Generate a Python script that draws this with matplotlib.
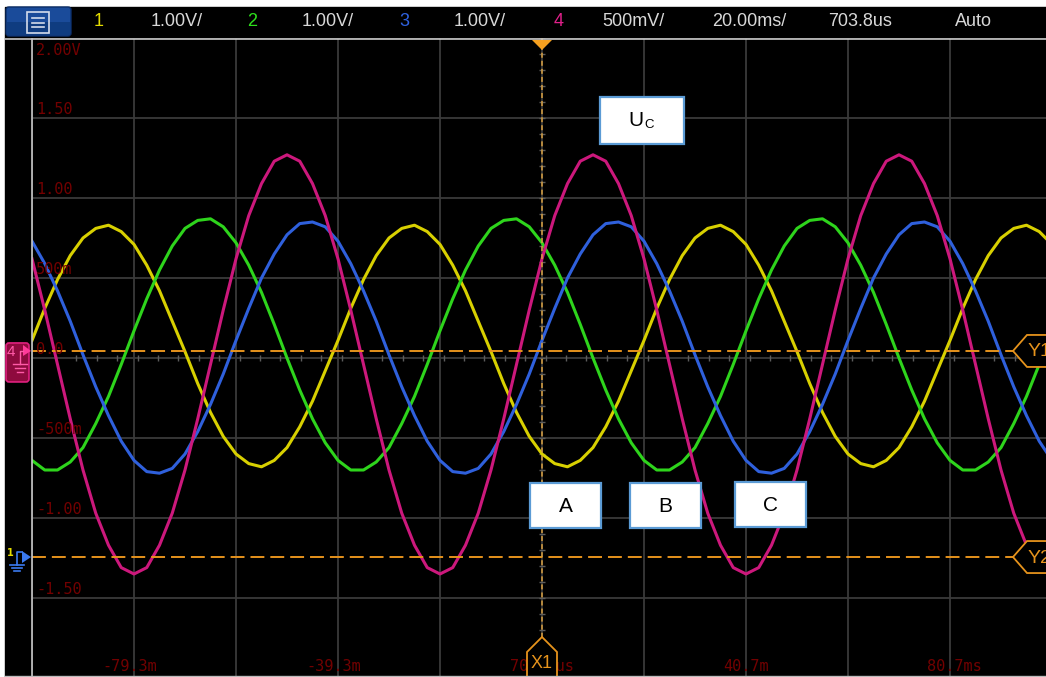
import numpy as np
import matplotlib
matplotlib.use('Agg')
import matplotlib.pyplot as plt
from matplotlib.patches import Rectangle, Polygon, FancyBboxPatch

plt.rcParams['lines.scale_dashes'] = False

# --- data -----------------------------------------------------------------
# time base in ms (one sample every 2.5 ms over the 10 divisions)
t_ms = np.arange(-100, 100.1, 2.5)

ch1_yellow = [
    0.11, 0.31, 0.49, 0.64, 0.75, 0.81, 0.83, 0.79, 0.71, 0.58, 0.42, 0.23,
    0.04, -0.16, -0.34, -0.49, -0.60, -0.66, -0.68, -0.64, -0.56, -0.43, -0.27, -0.08,
    0.11, 0.31, 0.49, 0.64, 0.75, 0.81, 0.83, 0.79, 0.71, 0.58, 0.42, 0.23,
    0.04, -0.16, -0.34, -0.49, -0.60, -0.66, -0.68, -0.64, -0.56, -0.43, -0.27, -0.08,
    0.11, 0.31, 0.49, 0.64, 0.75, 0.81, 0.83, 0.79, 0.71, 0.58, 0.42, 0.23,
    0.04, -0.16, -0.34, -0.49, -0.60, -0.66, -0.68, -0.64, -0.56, -0.43, -0.27, -0.08,
    0.11, 0.31, 0.49, 0.64, 0.75, 0.81, 0.83, 0.79, 0.71]

ch2_green = [
    -0.64, -0.70, -0.70, -0.65, -0.56, -0.41, -0.24, -0.04, 0.17, 0.37, 0.55, 0.70,
    0.81, 0.86, 0.87, 0.82, 0.72, 0.58, 0.41, 0.21, 0.00, -0.20, -0.38, -0.53,
    -0.64, -0.70, -0.70, -0.65, -0.56, -0.41, -0.24, -0.04, 0.17, 0.37, 0.55, 0.70,
    0.81, 0.86, 0.87, 0.82, 0.72, 0.58, 0.41, 0.21, 0.00, -0.20, -0.38, -0.53,
    -0.64, -0.70, -0.70, -0.65, -0.56, -0.41, -0.24, -0.04, 0.17, 0.37, 0.55, 0.70,
    0.81, 0.86, 0.87, 0.82, 0.72, 0.58, 0.41, 0.21, 0.00, -0.20, -0.38, -0.53,
    -0.64, -0.70, -0.70, -0.65, -0.56, -0.41, -0.24, -0.04, 0.17]

ch3_blue = [
    0.73, 0.59, 0.42, 0.23, 0.02, -0.18, -0.36, -0.52, -0.64, -0.71, -0.72, -0.69,
    -0.60, -0.46, -0.29, -0.10, 0.11, 0.31, 0.50, 0.65, 0.77, 0.84, 0.85, 0.82,
    0.73, 0.59, 0.42, 0.23, 0.02, -0.18, -0.36, -0.52, -0.64, -0.71, -0.72, -0.69,
    -0.60, -0.46, -0.29, -0.10, 0.11, 0.31, 0.50, 0.65, 0.77, 0.84, 0.85, 0.82,
    0.73, 0.59, 0.42, 0.23, 0.02, -0.18, -0.36, -0.52, -0.64, -0.71, -0.72, -0.69,
    -0.60, -0.46, -0.29, -0.10, 0.11, 0.31, 0.50, 0.65, 0.77, 0.84, 0.85, 0.82,
    0.73, 0.59, 0.42, 0.23, 0.02, -0.18, -0.36, -0.52, -0.64]

ch4_magenta = [
    0.62, 0.30, -0.04, -0.38, -0.70, -0.97, -1.17, -1.31, -1.35, -1.31, -1.17, -0.97,
    -0.70, -0.38, -0.04, 0.30, 0.62, 0.89, 1.09, 1.23, 1.27, 1.23, 1.09, 0.89,
    0.62, 0.30, -0.04, -0.38, -0.70, -0.97, -1.17, -1.31, -1.35, -1.31, -1.17, -0.97,
    -0.70, -0.38, -0.04, 0.30, 0.62, 0.89, 1.09, 1.23, 1.27, 1.23, 1.09, 0.89,
    0.62, 0.30, -0.04, -0.38, -0.70, -0.97, -1.17, -1.31, -1.35, -1.31, -1.17, -0.97,
    -0.70, -0.38, -0.04, 0.30, 0.62, 0.89, 1.09, 1.23, 1.27, 1.23, 1.09, 0.89,
    0.62, 0.30, -0.04, -0.38, -0.70, -0.97, -1.17, -1.31, -1.35]

volt_levels = [2.0, 1.5, 1.0, 0.5, 0.0, -0.5, -1.0, -1.5]
volt_labels = ['2.00V', '1.50', '1.00', '500m', '0.0', '-500m', '-1.00', '-1.50']
time_levels = [-80, -40, 0, 40, 80]
time_labels = ['-79.3m', '-39.3m', '703.8us', '40.7m', '80.7ms']

header = [('1', 99, '#e4dc00'), ('1.00V/', 177, '#d8d8d8'),
          ('2', 252, '#2ee01c'), ('1.00V/', 328, '#d8d8d8'),
          ('3', 404, '#2f62e0'), ('1.00V/', 480, '#d8d8d8'),
          ('4', 559, '#e0208a'), ('500mV/', 633, '#d8d8d8'),
          ('20.00ms/', 749, '#d8d8d8'), ('703.8us', 860, '#d8d8d8'),
          ('Auto', 973, '#d8d8d8')]

cursor_x1 = 0.0
cursor_y1 = 0.044
cursor_y2 = -1.244

# label boxes: text, left, top, width, height (screen pixels)
boxes = [('A', 530, 483, 71, 45), ('B', 630, 483, 71, 45), ('C', 735, 482, 71, 45)]

W, H = 1046, 677
ORANGE = '#e6931c'
LABEL_RED = '#720000'


def vy(v):
    # volts -> screen pixel row (0 V at row 358, 160 px per volt)
    return 358 - v * 160


fig = plt.figure(figsize=(W / 100, H / 100), dpi=100)
fig.patch.set_facecolor('white')

# black screen behind everything
bg = fig.add_axes([0, 0, 1, 1], zorder=0)
bg.set_xlim(0, W)
bg.set_ylim(H, 0)
bg.axis('off')
bg.add_patch(Rectangle((5, 7), W - 5, H - 7, color='black'))

# waveform area: 10 x 8 divisions
ax = fig.add_axes([32 / W, (H - 678) / H, 1020 / W, 640 / H], zorder=1)
ax.set_facecolor('black')
ax.set_xlim(-100, 100)
ax.set_ylim(-2, 2)
ax.set_xticks(np.arange(-100, 101, 20))
ax.set_yticks(np.arange(-2, 2.01, 0.5))
ax.grid(True, color='#3a3a3a', lw=1.3)
ax.tick_params(length=0, labelbottom=False, labelleft=False)
for s in ax.spines.values():
    s.set_visible(False)

# small ticks on the centre lines
ax.plot(np.arange(-96, 100, 4) + 0.7, np.zeros(49), ls='none', marker='|',
        ms=5, mew=1, color='#5c5c5c')
ax.plot(np.zeros(41), np.arange(-2, 2.01, 0.1), ls='none', marker='_',
        ms=5, mew=1, color='#5c5c5c')

for lab, v in zip(volt_labels, volt_levels):
    off = -9 if v == 2.0 else 6
    ax.annotate(lab, xy=(0, v), xycoords=('axes fraction', 'data'),
                xytext=(3, off), textcoords='offset points', ha='left',
                va='center', family='DejaVu Sans Mono', fontsize=11,
                color=LABEL_RED)

fs = 11
for lab, tv in zip(time_labels, time_levels):
    d = lab.index('.')
    shift = (len(lab) / 2 - (d + 0.5)) * 0.602 * fs
    ax.annotate(lab, xy=(tv, -2), xytext=(shift, 8), textcoords='offset points',
                ha='center', va='center', family='DejaVu Sans Mono',
                fontsize=fs, color=LABEL_RED)

# traces
for vals, col in [(ch1_yellow, '#d8d000'), (ch2_green, '#2ed41c'),
                  (ch3_blue, '#2f60dc'), (ch4_magenta, '#cc187c')]:
    ax.plot(t_ms, vals, color=col, lw=2.2, solid_joinstyle='round')

# cursors
ax.axhline(cursor_y1, color=ORANGE, lw=1.4, dashes=(10, 4.3))
ax.axhline(cursor_y2, color=ORANGE, lw=1.4, dashes=(10, 4.3))
ax.axvline(cursor_x1, color='#d9a040', lw=1.1, dashes=(3.6, 2.2))

# overlay for the screen furniture
ov = fig.add_axes([0, 0, 1, 1], zorder=3)
ov.set_xlim(0, W)
ov.set_ylim(H, 0)
ov.axis('off')
ov.patch.set_alpha(0)

ov.plot([5, W], [39, 39], color='#c8c8c8', lw=1.2)
ov.plot([31.5, 31.5], [39, H], color='#c8c8c8', lw=1.2)
ov.plot([5, W], [676, 676], color='#bcbcbc', lw=1)

# menu button
ov.add_patch(FancyBboxPatch((6, 7), 65, 29, boxstyle='round,pad=0,rounding_size=3',
                            fc='#1a4b9a', ec='#0c2f6a', lw=1))
ov.add_patch(Rectangle((7, 22), 63, 13, fc='#0f3c80', ec='none'))
ov.add_patch(Rectangle((27, 12), 22, 21, fc='none', ec='#d4dcec', lw=1.2))
for yy in (18, 22.5, 27):
    ov.plot([32, 44], [yy, yy], color='#d4dcec', lw=1.2)

for txt, cx, col in header:
    ov.text(cx, 22, txt, ha='center', va='center', fontsize=13,
            family='Liberation Sans', color=col)

# trigger marker
ov.add_patch(Polygon([(532, 40), (552, 40), (542, 50)], closed=True,
                     fc='#f5a020', ec='none'))

# X1 tag
ov.add_patch(Polygon([(542, 637), (527, 652), (527, 680), (557, 680), (557, 652)],
                     closed=True, fc='black', ec=ORANGE, lw=1.3))
ov.text(542, 664, 'X1', ha='center', va='center', fontsize=13,
        family='Liberation Sans', color=ORANGE)

# Y1 / Y2 tags
for v, name in [(cursor_y1, 'Y1'), (cursor_y2, 'Y2')]:
    y = vy(v)
    ov.add_patch(Polygon([(1013, y), (1027, y - 16), (1050, y - 16),
                          (1050, y + 16), (1027, y + 16)], closed=True,
                         fc='black', ec=ORANGE, lw=1.3))
    ov.text(1028, y + 1, name, ha='left', va='center', fontsize=14,
            family='Liberation Sans', color=ORANGE)

# channel 4 ground marker
y4 = vy(cursor_y1)
ov.add_patch(FancyBboxPatch((6, y4 - 8), 23, 39, boxstyle='round,pad=0,rounding_size=3',
                            fc='#8e0a3e', ec='#e0207f', lw=1.2))
ov.add_patch(Polygon([(23, y4 - 6), (23, y4 + 5), (31, y4)], closed=True,
                     fc='#ff3a9a', ec='none'))
ov.text(11, y4 + 1, '4', ha='center', va='center', fontsize=11,
        family='Liberation Sans', color='#ff5aa8')
ov.plot([20, 20, 23], [y4 + 13, y4, y4], color='#ff5aa8', lw=1)
for dy, hw in [(13, 7), (17, 5), (21, 3)]:
    ov.plot([20 - hw, 20 + hw], [y4 + dy, y4 + dy], color='#ff5aa8', lw=1)

# channels 1-3 ground marker
y2 = vy(cursor_y2)
ov.add_patch(Polygon([(22, y2 - 6), (22, y2 + 6), (31, y2)], closed=True,
                     fc='#3a7af0', ec='none'))
ov.plot([17, 17, 22], [y2 + 8, y2 - 5, y2 - 5], color='#3a7af0', lw=1.2)
for dy, hw in [(8, 7), (11, 5), (14, 3)]:
    ov.plot([17 - hw, 17 + hw], [y2 + dy, y2 + dy], color='#3a7af0', lw=1.2)
ov.text(10, y2 - 4, '1', ha='center', va='center', fontsize=7,
        color='#e4dc00', fontweight='bold')

# annotation boxes
for txt, x0, y0, bw, bh in boxes:
    ov.add_patch(Rectangle((x0, y0), bw, bh, fc='white', ec='#5b9bd5', lw=1.6))
    ov.text(x0 + bw / 2, y0 + bh / 2 + 1, txt, ha='center', va='center',
            fontsize=15, family='Liberation Sans', color='black')

ov.add_patch(Rectangle((600, 97), 84, 47, fc='white', ec='#5b9bd5', lw=1.6))
ov.text(636, 121, 'U', ha='center', va='center', fontsize=15,
        family='Liberation Sans', color='black')
ov.text(649, 125, 'C', ha='center', va='center', fontsize=9.5,
        family='Liberation Sans', color='black')

fig.savefig('out.png', dpi=100, facecolor='white')
